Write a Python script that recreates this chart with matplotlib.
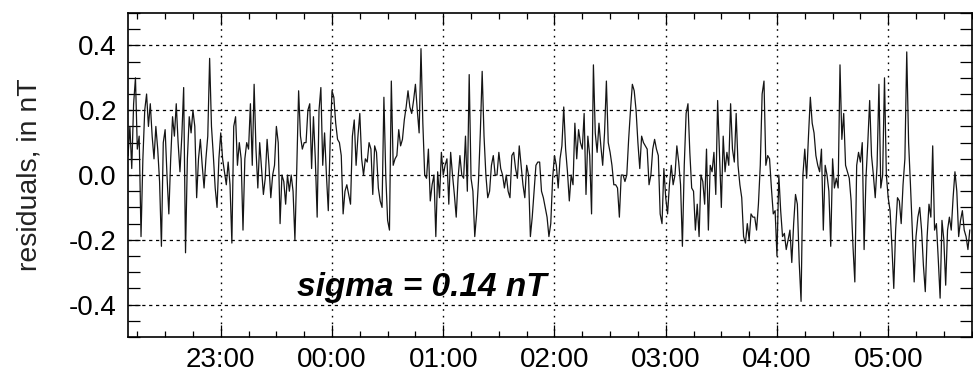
import matplotlib
matplotlib.use("Agg")
import matplotlib.pyplot as plt
from matplotlib.ticker import MultipleLocator
import numpy as np

plt.rcParams["font.family"] = ["Liberation Sans", "DejaVu Sans"]

# residuals in nT, one value per minute from 22:10
residuals = [
    0.06, 0.15, 0.02, 0.22, 0.30, 0.08, 0.12, -0.19, 0.05, 0.20,
    0.25, 0.15, 0.22, 0.12, 0.05, 0.15, 0.08, -0.02, -0.22, 0.10,
    0.14, 0.00, -0.12, 0.05, 0.18, 0.12, 0.22, 0.10, 0.01, 0.12,
    0.27, -0.24, 0.05, 0.18, 0.13, 0.20, 0.15, -0.07, 0.05, 0.11,
    0.03, -0.04, 0.05, 0.12, 0.36, 0.15, 0.06, -0.04, -0.10, 0.05,
    0.13, 0.05, 0.01, -0.03, 0.04, -0.03, -0.21, 0.15, 0.18, 0.03,
    0.10, 0.05, -0.17, 0.05, 0.10, 0.08, 0.22, 0.03, 0.28, 0.08,
    -0.04, 0.10, 0.02, -0.06, -0.01, 0.11, 0.03, -0.07, 0.00, 0.03,
    0.15, 0.10, -0.15, 0.00, -0.02, -0.09, 0.00, -0.05, 0.00, -0.05,
    -0.20, 0.02, 0.26, 0.12, 0.08, 0.10, 0.10, 0.20, 0.22, 0.02,
    0.18, 0.05, -0.13, 0.20, 0.27, 0.03, 0.13, 0.00, -0.11, 0.10,
    0.26, 0.24, 0.16, 0.11, 0.10, 0.06, -0.12, -0.05, -0.03, -0.06,
    -0.09, 0.12, 0.17, 0.03, 0.12, 0.19, 0.05, 0.00, 0.05, 0.04,
    0.10, 0.08, -0.06, 0.09, 0.07, -0.04, -0.08, -0.10, 0.24, 0.00,
    -0.14, -0.17, 0.29, 0.03, 0.05, 0.06, 0.14, 0.09, 0.11, 0.17,
    0.21, 0.26, 0.21, 0.19, 0.23, 0.28, 0.20, 0.13, 0.39, 0.16,
    0.00, -0.01, 0.08, -0.08, -0.03, 0.00, -0.19, 0.01, -0.07, 0.07,
    0.00, 0.03, 0.05, -0.09, 0.07, 0.00, -0.06, -0.13, -0.01, 0.06,
    0.00, -0.01, 0.12, -0.05, 0.31, -0.01, -0.05, -0.19, -0.12, -0.02,
    0.13, 0.32, 0.12, 0.00, -0.07, -0.05, 0.03, 0.06, 0.00, 0.00,
    0.07, 0.02, 0.00, -0.04, 0.00, -0.05, -0.07, 0.06, 0.07, 0.02,
    -0.01, 0.09, 0.03, -0.03, -0.07, 0.03, 0.00, -0.19, -0.13, -0.05,
    0.03, 0.04, 0.04, -0.05, -0.07, -0.10, -0.13, -0.19, -0.15, -0.01,
    0.06, 0.03, -0.04, 0.05, 0.09, 0.21, 0.08, 0.01, -0.08, 0.00,
    -0.03, 0.16, 0.05, 0.14, 0.10, 0.08, 0.19, -0.06, 0.12, 0.06,
    -0.12, 0.34, 0.13, 0.07, 0.16, 0.09, 0.03, 0.13, 0.29, 0.10,
    0.07, 0.03, -0.03, -0.03, -0.04, -0.13, 0.00, 0.00, -0.02, 0.00,
    0.11, 0.20, 0.28, 0.26, 0.20, 0.10, 0.02, 0.12, 0.10, 0.09,
    0.08, -0.03, 0.00, 0.08, 0.11, 0.08, 0.06, -0.12, -0.15, 0.02,
    -0.07, -0.12, -0.03, 0.03, -0.03, 0.00, 0.09, 0.04, -0.03, -0.22,
    0.03, 0.19, 0.22, 0.07, -0.04, -0.05, -0.17, -0.09, -0.19, 0.00,
    -0.02, -0.09, 0.08, -0.17, 0.03, 0.01, 0.07, -0.06, 0.23, 0.06,
    -0.10, 0.12, 0.01, 0.07, 0.03, 0.22, 0.08, 0.04, 0.19, 0.03,
    -0.03, -0.07, -0.19, -0.21, -0.15, -0.20, -0.12, -0.13, -0.13, -0.17,
    -0.09, 0.03, 0.25, 0.29, 0.03, 0.06, 0.05, -0.04, -0.12, -0.11,
    -0.25, 0.00, -0.11, -0.19, -0.18, -0.23, -0.20, -0.17, -0.27, -0.15,
    -0.06, -0.09, -0.27, -0.39, 0.00, 0.08, -0.01, 0.12, 0.24, 0.16,
    0.13, 0.06, 0.03, 0.01, 0.08, -0.17, 0.03, 0.00, -0.05, -0.22,
    0.05, -0.04, -0.01, -0.04, 0.34, 0.11, 0.19, 0.03, 0.01, -0.01,
    -0.08, -0.22, -0.33, 0.03, 0.07, 0.04, 0.10, -0.23, -0.01, 0.10,
    0.23, 0.06, 0.00, -0.07, 0.03, 0.28, -0.04, 0.00, 0.30, 0.00,
    -0.07, -0.11, -0.22, -0.35, -0.17, -0.07, -0.08, -0.15, -0.03, 0.05,
    0.38, 0.10, -0.03, -0.17, -0.33, -0.19, -0.13, -0.10, -0.17, -0.28,
    -0.36, -0.19, -0.09, -0.13, 0.09, -0.17, -0.15, -0.26, -0.38, -0.14,
    -0.20, -0.34, -0.17, -0.13, -0.17, -0.07, 0.01, -0.05, -0.19, -0.14,
    -0.11, -0.17, -0.19, -0.23, -0.17,
]
start_hour = -50 / 60.0  # 22:10, in hours after 23:00
step_hour = 1 / 60.0
end_hour = 6.75  # 05:45

hour_ticks = [0, 1, 2, 3, 4, 5, 6]
hour_labels = ["23:00", "00:00", "01:00", "02:00", "03:00", "04:00", "05:00"]
y_ticks = [-0.4, -0.2, 0.0, 0.2, 0.4]
y_labels = ["-0.4", "-0.2", "0.0", "0.2", "0.4"]

hours = start_hour + step_hour * np.arange(len(residuals))

fig = plt.figure(figsize=(9.73, 3.72), dpi=100)
ax = fig.add_axes([0.1316, 0.094, 0.867, 0.871])

# grid first so the trace sits on top
for y in y_ticks:
    ax.axhline(y, color="black", lw=0.9, linestyle=(0, (2.6, 2.9)), zorder=1)
for h in hour_ticks:
    ax.axvline(h, color="black", lw=1.0, linestyle=(0, (1.2, 3.6)), zorder=1)

ax.plot(hours, residuals, color="#151515", lw=0.9, zorder=2)

ax.set_xlim(start_hour, end_hour)
ax.set_ylim(-0.5, 0.5)

ax.set_xticks(hour_ticks)
ax.set_xticklabels(hour_labels)
ax.xaxis.set_minor_locator(MultipleLocator(0.25))
ax.set_yticks(y_ticks)
ax.set_yticklabels(y_labels)
ax.yaxis.set_minor_locator(MultipleLocator(0.05))

ax.tick_params(axis="x", which="both", direction="in", top=True, bottom=True,
               labelsize=20, pad=7, width=0.9)
ax.tick_params(axis="x", which="major", length=8.6)
ax.tick_params(axis="x", which="minor", length=4.3)
ax.tick_params(axis="y", which="both", direction="in", left=True, right=True,
               labelsize=20, pad=8, width=0.9, length=8.5)

for s in ax.spines.values():
    s.set_linewidth(1.2)

ax.set_ylabel("residuals, in nT", fontsize=20.5, color="#222222")
ax.yaxis.set_label_coords(-0.102, 0.5)

ax.text(0.681, -0.372, "sigma = 0.14 nT", fontsize=24, fontweight="bold",
        fontstyle="italic", ha="left", va="baseline", zorder=3)

fig.savefig("out.png", dpi=100)
